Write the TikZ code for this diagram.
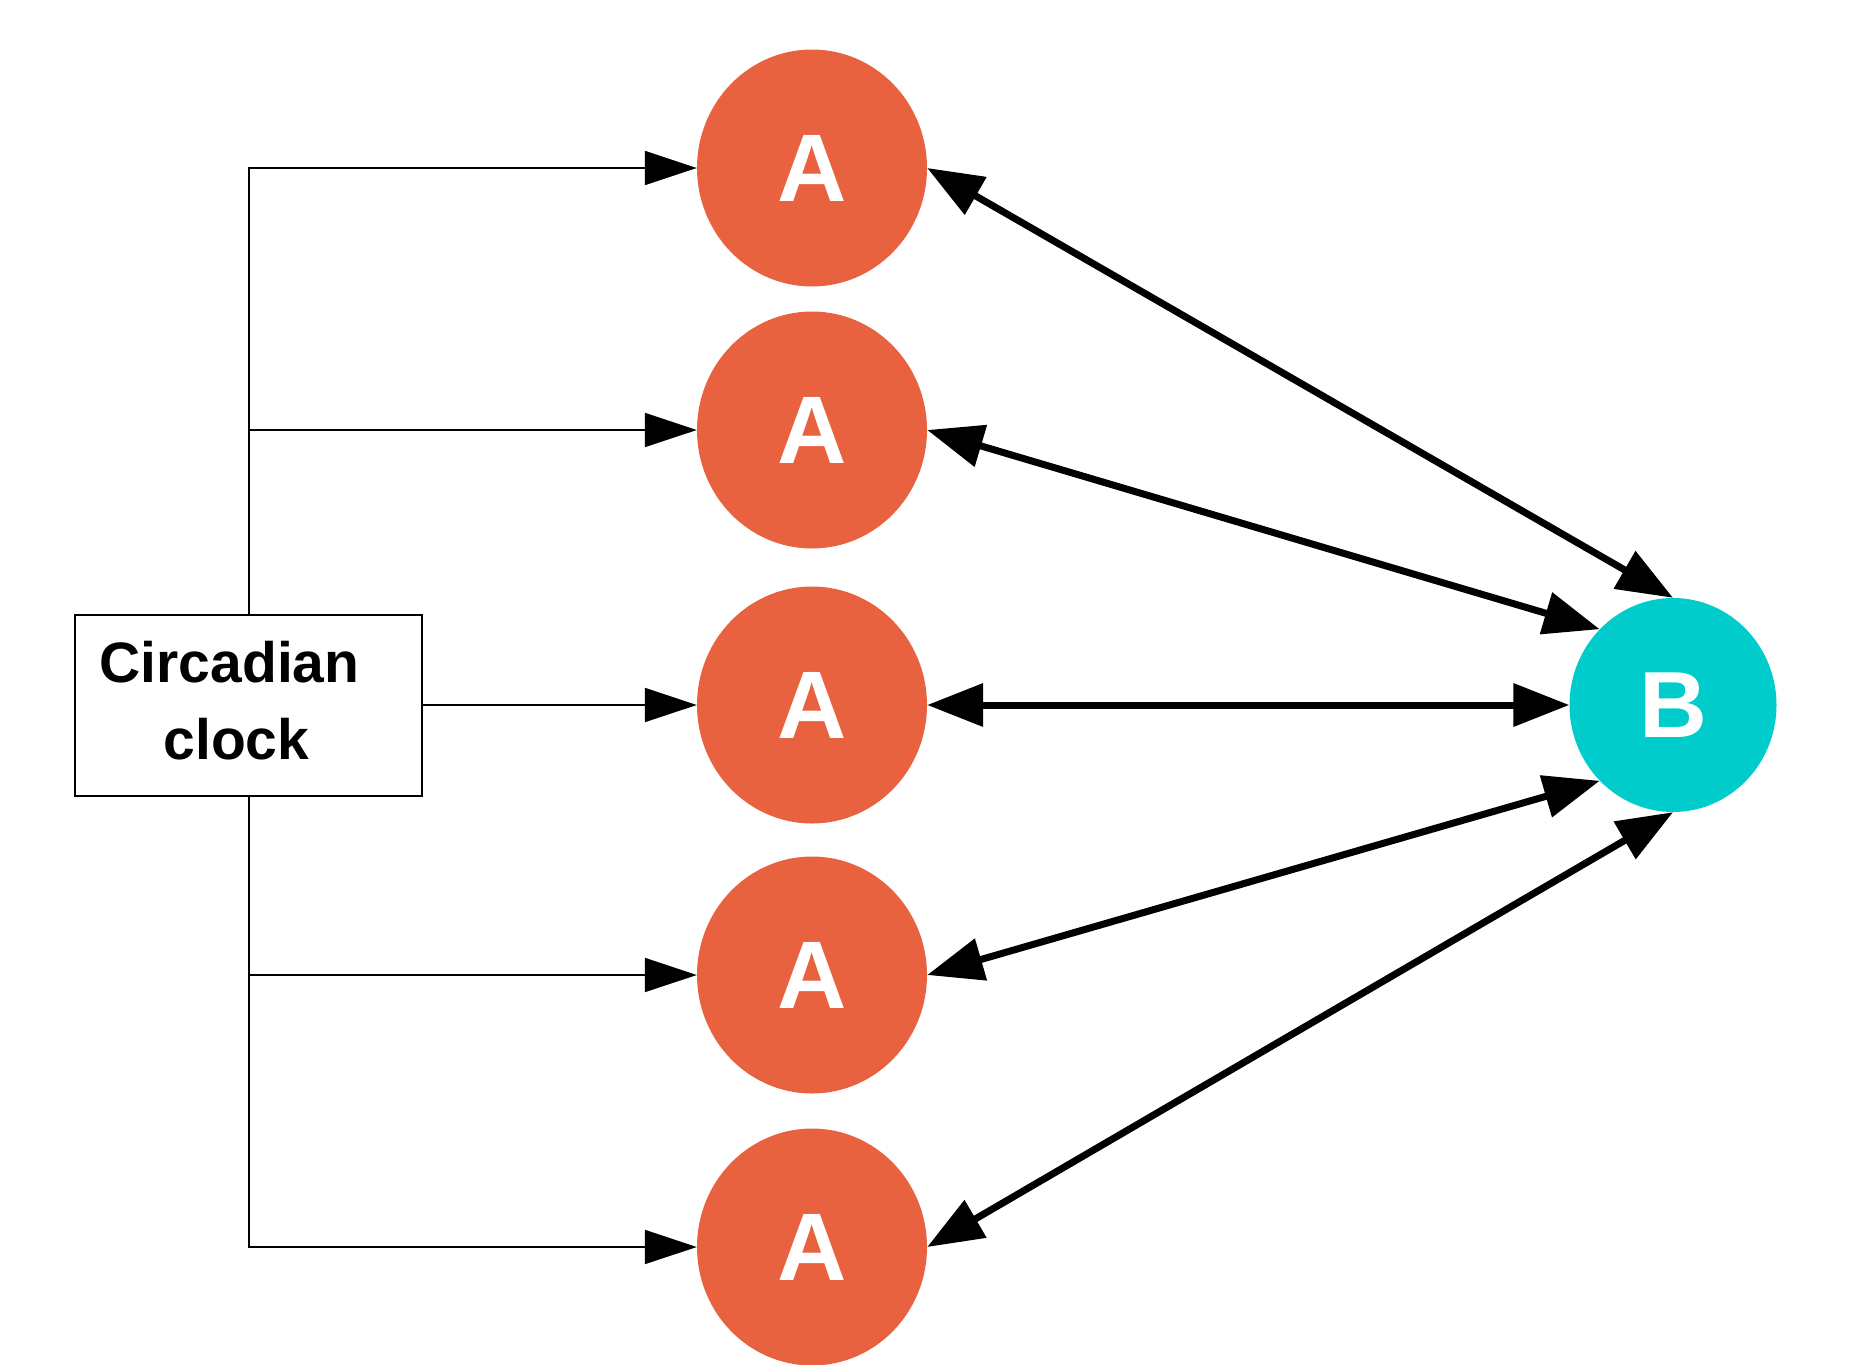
\documentclass[tikz,border=0pt]{standalone}
\usepackage{fontspec}
\setmainfont{Liberation Sans}
\usetikzlibrary{shapes.geometric,arrows.meta}
\definecolor{aorange}{RGB}{233,98,64}
\definecolor{bcyan}{RGB}{0,204,204}
\tikzset{
  anode/.style={ellipse,fill=aorange,draw=none,minimum width=230pt,minimum height=237pt,inner sep=0pt,
    text=white,font=\fontsize{96}{96}\selectfont\bfseries},
  bnode/.style={ellipse,fill=bcyan,draw=none,minimum width=207pt,minimum height=214pt,inner sep=0pt,
    text=white,font=\fontsize{94}{94}\selectfont\bfseries},
  clockbox/.style={rectangle,draw=black,line width=2pt,fill=white,minimum width=347pt,minimum height=181pt,
    inner sep=0pt},
  clocktext/.style={align=center,inner sep=0pt,font=\fontsize{57}{77}\selectfont\bfseries},
  thinarrow/.style={line width=2pt,-{Triangle[length=52pt,width=34pt]}},
  thickarrow/.style={line width=7pt,{Triangle[length=56pt,width=42pt]}-{Triangle[length=56pt,width=42pt]}},
}
\begin{document}
\begin{tikzpicture}[x=1pt,y=-1pt]
\useasboundingbox (0,0) rectangle (1858,1365);
\node[anode] (a1) at (812,168) {A};
\node[anode] (a2) at (812,430) {A};
\node[anode] (a3) at (812,705) {A};
\node[anode] (a4) at (812,975) {A};
\node[anode] (a5) at (812,1247) {A};
\node[bnode] (b) at (1673,705) {B};
\node[clockbox] (clk) at (248.5,705) {};
\node[clocktext] (clktxt) at (248.5,701) {Circadian\hspace*{38pt}\\clock\hspace*{24pt}};
\draw[thinarrow] (clk.north) |- (a1.west);
\draw[thinarrow] (clk.north) |- (a2.west);
\draw[thinarrow] (clk.east) -- (a3.west);
\draw[thinarrow] (clk.south) |- (a4.west);
\draw[thinarrow] (clk.south) |- (a5.west);
\draw[thickarrow] (a1.east) -- (b.north);
\draw[thickarrow] (a2.east) -- (b.north west);
\draw[thickarrow] (a3.east) -- (b.west);
\draw[thickarrow] (a4.east) -- (b.south west);
\draw[thickarrow] (a5.east) -- (b.south);
\end{tikzpicture}
\end{document}
